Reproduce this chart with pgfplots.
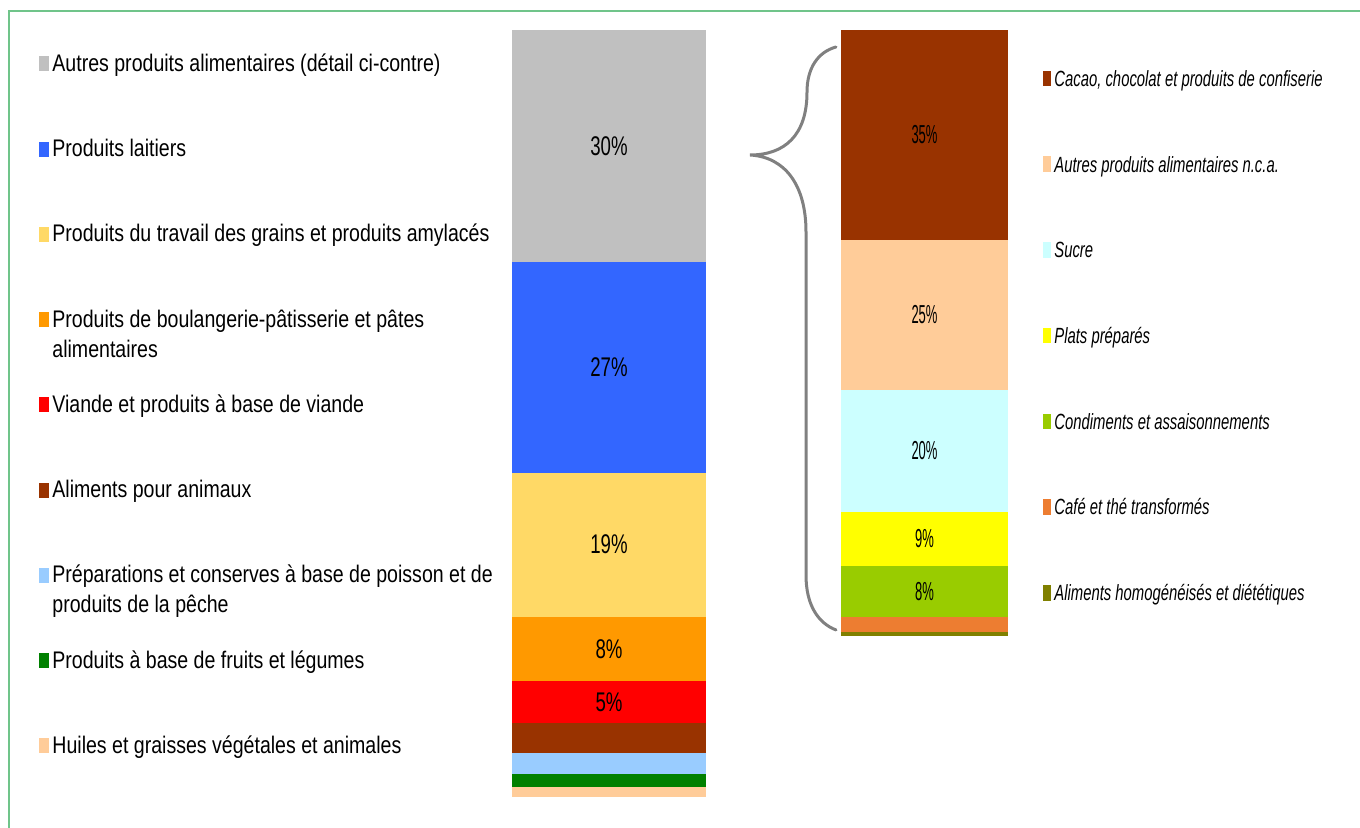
\documentclass[border=0pt]{standalone}
\usepackage{pgfplots}
\pgfplotsset{compat=1.18}
\usepackage{fontspec}
\setmainfont{Liberation Sans}
\newfontfamily\legfont[FakeStretch=0.815]{Liberation Sans}
\newfontfamily\rlegfont[FakeStretch=0.675]{Liberation Sans}
\newfontfamily\lblfont[FakeStretch=0.69]{Liberation Sans}
\newfontfamily\rlblfont[FakeStretch=0.5]{Liberation Sans}

\definecolor{cGrey}{RGB}{192,192,192}
\definecolor{cBlue}{RGB}{51,102,255}
\definecolor{cYellowL}{RGB}{255,217,102}
\definecolor{cOrange}{RGB}{255,153,0}
\definecolor{cRed}{RGB}{255,0,0}
\definecolor{cBrown}{RGB}{153,51,0}
\definecolor{cLBlue}{RGB}{153,204,255}
\definecolor{cGreen}{RGB}{0,128,0}
\definecolor{cPeach}{RGB}{255,204,153}
\definecolor{cCyan}{RGB}{204,255,255}
\definecolor{cYellow}{RGB}{255,255,0}
\definecolor{cLime}{RGB}{153,204,0}
\definecolor{cOrange2}{RGB}{237,125,49}
\definecolor{cOlive}{RGB}{128,128,0}
\definecolor{cFrame}{RGB}{112,196,138}

\begin{document}
\begin{tikzpicture}
\useasboundingbox (0,0) rectangle (680pt,414pt);

% ---------- Left stacked bar ----------
\begin{axis}[
  at={(256pt,15.5pt)}, anchor=south west,
  scale only axis, width=97pt, height=383.5pt,
  xmin=0, xmax=1, ymin=0, ymax=100, enlargelimits=false,
  hide axis, clip=false,
  ybar stacked, bar width=97pt,
  reverse legend,
  legend cell align=left,
  legend image code/.code={\fill[#1] (0pt,0pt) rectangle (5pt,7.5pt);},
  legend style={at={(rel axis cs:-2.438,0.9687)}, anchor=north west,
    draw=none, fill=none, inner sep=0pt, row sep=34.125pt, column sep=1.5pt,
    font=\legfont\fontsize{12}{15}\selectfont,
    nodes={inner sep=0pt, text height=8.5pt, text depth=0pt},
    cells={anchor=base west}},
]
\addplot[fill=cPeach, draw=none] coordinates {(0.5,1.3)};
\addlegendentry{Huiles et graisses végétales et animales}
\addplot[fill=cGreen, draw=none] coordinates {(0.5,1.7)};
\addlegendentry{Produits à base de fruits et légumes}
\addplot[fill=cLBlue, draw=none] coordinates {(0.5,2.8)};
\addlegendentry{\smash{\begin{tabular}[t]{@{}l@{}}Préparations et conserves à base de poisson et de\\produits de la pêche\end{tabular}}}
\addplot[fill=cBrown, draw=none] coordinates {(0.5,3.9)};
\addlegendentry{Aliments pour animaux}
\addplot[fill=cRed, draw=none] coordinates {(0.5,5.4)};
\addlegendentry{Viande et produits à base de viande}
\addplot[fill=cOrange, draw=none] coordinates {(0.5,8.4)};
\addlegendentry{\smash{\begin{tabular}[t]{@{}l@{}}Produits de boulangerie-pâtisserie et pâtes\\alimentaires\end{tabular}}}
\addplot[fill=cYellowL, draw=none] coordinates {(0.5,18.8)};
\addlegendentry{Produits du travail des grains et produits amylacés}
\addplot[fill=cBlue, draw=none] coordinates {(0.5,27.4)};
\addlegendentry{Produits laitiers}
\addplot[fill=cGrey, draw=none] coordinates {(0.5,30.3)};
\addlegendentry{Autres produits alimentaires (détail ci-contre)}
\end{axis}

% left labels (segment centres, value as meta)
\begin{axis}[
  at={(256pt,15.5pt)}, anchor=south west,
  scale only axis, width=97pt, height=383.5pt,
  xmin=0, xmax=1, ymin=0, ymax=100, enlargelimits=false,
  hide axis, clip=false,
  /pgf/number format/assume math mode=true,
]
\addplot[draw=none, mark=none, point meta=explicit,
  nodes near coords={\pgfmathprintnumber[fixed,precision=0]{\pgfplotspointmeta}\%},
  every node near coord/.style={anchor=center, text=black,
    font=\lblfont\fontsize{13.5}{14}\selectfont}]
  coordinates {(0.5,12.4) [5.4] (0.5,19.3) [8.4] (0.5,32.9) [18.8]
               (0.5,56.0) [27.4] (0.5,84.85) [30.3]};
\end{axis}

% ---------- Right stacked bar ----------
\begin{axis}[
  at={(420.5pt,96pt)}, anchor=south west,
  scale only axis, width=83.5pt, height=303pt,
  xmin=0, xmax=1, ymin=0, ymax=100, enlargelimits=false,
  hide axis, clip=false,
  ybar stacked, bar width=83.5pt,
  reverse legend,
  legend cell align=left,
  legend image code/.code={\fill[#1] (0pt,0pt) rectangle (4pt,7.8pt);},
  legend style={at={(rel axis cs:1.2096,0.934)}, anchor=north west,
    draw=none, fill=none, inner sep=0pt, row sep=34.85pt, column sep=1.5pt,
    font=\rlegfont\itshape\fontsize{11}{13}\selectfont,
    nodes={inner sep=0pt, text height=8pt, text depth=0pt},
    cells={anchor=base west}},
]
\addplot[fill=cOlive, draw=none] coordinates {(0.5,0.7)};
\addlegendentry{Aliments homogénéisés et diététiques}
\addplot[fill=cOrange2, draw=none] coordinates {(0.5,2.5)};
\addlegendentry{Café et thé transformés}
\addplot[fill=cLime, draw=none] coordinates {(0.5,8.4)};
\addlegendentry{Condiments et assaisonnements}
\addplot[fill=cYellow, draw=none] coordinates {(0.5,8.9)};
\addlegendentry{Plats préparés}
\addplot[fill=cCyan, draw=none] coordinates {(0.5,20.1)};
\addlegendentry{Sucre}
\addplot[fill=cPeach, draw=none] coordinates {(0.5,24.8)};
\addlegendentry{Autres produits alimentaires n.c.a.}
\addplot[fill=cBrown, draw=none] coordinates {(0.5,34.6)};
\addlegendentry{Cacao, chocolat et produits de confiserie}
\end{axis}

% right labels
\begin{axis}[
  at={(420.5pt,96pt)}, anchor=south west,
  scale only axis, width=83.5pt, height=303pt,
  xmin=0, xmax=1, ymin=0, ymax=100, enlargelimits=false,
  hide axis, clip=false,
  /pgf/number format/assume math mode=true,
]
\addplot[draw=none, mark=none, point meta=explicit,
  nodes near coords={\pgfmathprintnumber[fixed,precision=0]{\pgfplotspointmeta}\%},
  every node near coord/.style={anchor=center, text=black,
    font=\rlblfont\fontsize{13}{14}\selectfont}]
  coordinates {(0.5,7.4) [8.4] (0.5,16.05) [8.9] (0.5,30.55) [20.1]
               (0.5,53.0) [24.8] (0.5,82.7) [34.6]};
\end{axis}

% ---------- Frame and brace (pixel coordinates of the reference) ----------
\begin{scope}[x=0.5pt, y=-0.5pt, yshift=414pt]
  \draw[cFrame, line width=1pt] (9,900) -- (9,11) -- (1400,11);
  \draw[gray, line width=1.5pt, line cap=round]
    (836,47) .. controls (818,52) and (807,68) .. (807,92)
    .. controls (807,135) and (785,155) .. (750,155)
    .. controls (785,157) and (806,185) .. (806,232)
    -- (806,575)
    .. controls (806,605) and (818,623) .. (836,630);
\end{scope}
\end{tikzpicture}
\end{document}
